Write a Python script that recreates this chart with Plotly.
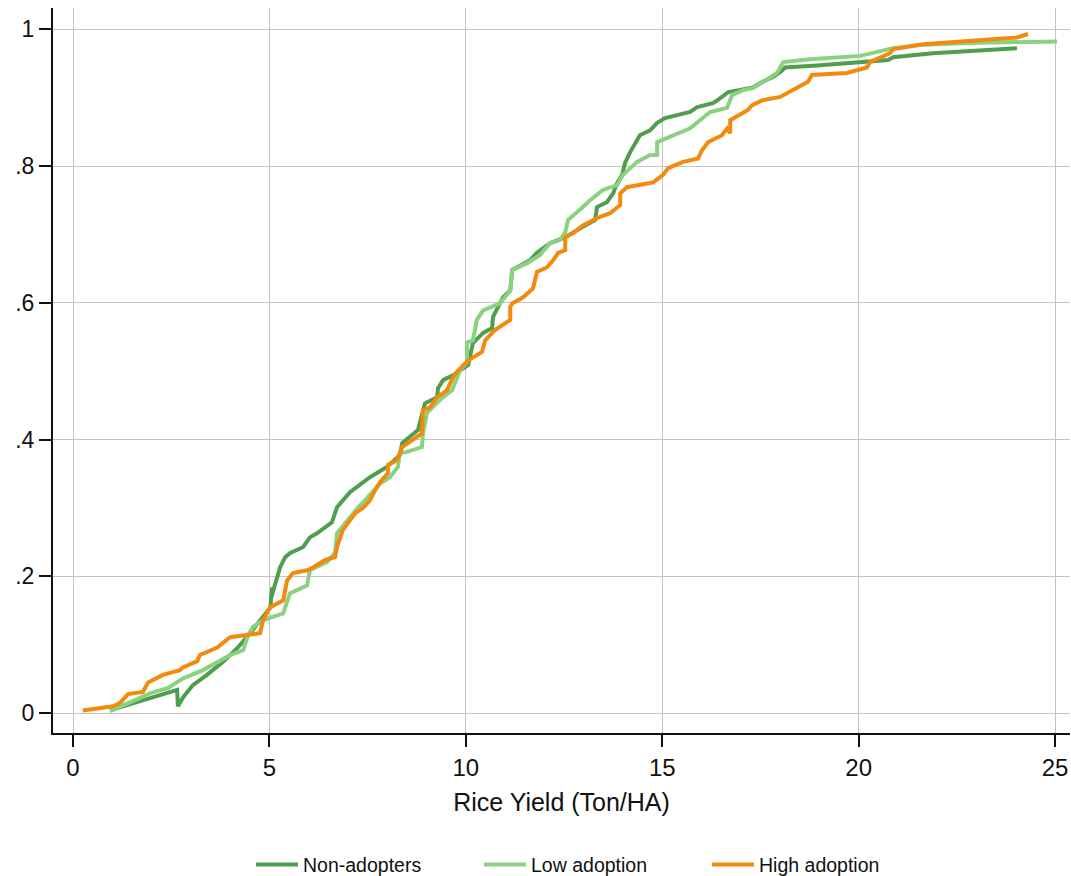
import plotly.graph_objects as go

# Non-adopters
non_x = [0.94, 2.65, 2.67, 2.80, 3.05, 3.41, 3.82, 4.18, 4.51, 4.84, 5.02, 5.07, 5.05, 5.27, 5.40, 5.52, 5.86,
         6.03, 6.21, 6.59, 6.72, 7.05, 7.36, 7.56, 7.99, 8.32, 8.38, 8.78, 8.96, 9.27, 9.29, 9.42, 9.67,
         10.06, 10.18, 10.44, 10.67, 10.69, 10.82, 10.95, 11.13, 11.18, 11.63, 11.81, 12.14, 12.53, 12.98,
         13.29, 13.34, 13.59, 13.75, 13.85, 13.98, 14.05, 14.18, 14.43, 14.69, 14.87, 15.07, 15.71, 15.89,
         16.29, 16.40, 16.68, 16.98, 17.31, 17.62, 17.82, 18.00, 18.13, 18.94, 20.04, 20.75, 20.88, 21.89, 24.03]
non_y = [0.004, 0.034, 0.010, 0.023, 0.041, 0.056, 0.075, 0.095, 0.117, 0.140, 0.154, 0.184, 0.170, 0.213, 0.228,
         0.234, 0.243, 0.257, 0.263, 0.279, 0.301, 0.323, 0.336, 0.345, 0.360, 0.377, 0.395, 0.414, 0.453, 0.462,
         0.475, 0.487, 0.494, 0.509, 0.541, 0.556, 0.563, 0.579, 0.594, 0.608, 0.618, 0.648, 0.662, 0.673, 0.687,
         0.696, 0.711, 0.721, 0.740, 0.747, 0.760, 0.775, 0.787, 0.804, 0.820, 0.845, 0.852, 0.863, 0.870, 0.879,
         0.886, 0.892, 0.896, 0.908, 0.911, 0.915, 0.925, 0.930, 0.937, 0.944, 0.947, 0.952, 0.955, 0.959, 0.965,
         0.972]

# Low adoption
low_x = [0.94, 1.45, 1.96, 2.42, 2.80, 3.31, 3.67, 4.00, 4.33, 4.46, 4.58, 4.84, 5.35, 5.45, 5.52, 5.96, 6.03,
         6.47, 6.67, 6.72, 6.98, 7.26, 7.43, 7.61, 7.82, 8.07, 8.27, 8.32, 8.50, 8.88, 8.91, 9.01, 9.16, 9.42,
         9.65, 9.85, 10.03, 10.03, 10.18, 10.28, 10.44, 10.87, 11.13, 11.18, 11.56, 11.89, 12.14, 12.40, 12.53,
         12.60, 12.98, 13.16, 13.49, 13.85, 14.00, 14.36, 14.69, 14.87, 14.87, 15.38, 15.71, 15.96, 16.22, 16.65,
         16.78, 17.06, 17.31, 17.62, 17.92, 18.08, 18.76, 20.04, 20.37, 20.85, 21.56, 22.76, 25.05]
low_y = [0.003, 0.016, 0.029, 0.037, 0.051, 0.063, 0.075, 0.085, 0.092, 0.114, 0.126, 0.136, 0.146, 0.161, 0.175,
         0.187, 0.209, 0.221, 0.235, 0.263, 0.282, 0.301, 0.311, 0.322, 0.336, 0.345, 0.360, 0.380, 0.382, 0.389,
         0.409, 0.439, 0.447, 0.462, 0.472, 0.501, 0.513, 0.542, 0.545, 0.575, 0.589, 0.599, 0.618, 0.648, 0.658,
         0.670, 0.687, 0.692, 0.703, 0.721, 0.740, 0.750, 0.765, 0.772, 0.787, 0.806, 0.816, 0.816, 0.835, 0.848,
         0.855, 0.867, 0.879, 0.885, 0.904, 0.911, 0.914, 0.925, 0.936, 0.952, 0.956, 0.961, 0.966, 0.972, 0.977,
         0.980, 0.982]

# High adoption
high_x = [0.25, 1.02, 1.20, 1.40, 1.78, 1.91, 2.29, 2.72, 2.80, 3.16, 3.23, 3.67, 4.00, 4.76, 4.84, 5.02, 5.35,
          5.45, 5.60, 5.96, 6.11, 6.42, 6.67, 6.72, 6.87, 7.18, 7.38, 7.56, 7.69, 7.82, 8.02, 8.02, 8.25, 8.38,
          8.63, 8.88, 8.91, 9.09, 9.27, 9.52, 9.67, 9.80, 10.06, 10.18, 10.41, 10.49, 10.74, 11.13, 11.13, 11.18,
          11.46, 11.71, 11.81, 12.07, 12.22, 12.35, 12.53, 12.53, 12.73, 12.98, 13.34, 13.67, 13.93, 13.93, 14.10,
          14.77, 15.02, 15.15, 15.53, 15.91, 16.01, 16.17, 16.52, 16.65, 16.73, 16.73, 16.93, 17.18, 17.29, 17.54,
          18.00, 18.33, 18.43, 18.71, 18.81, 19.70, 20.21, 20.29, 20.80, 20.88, 21.64, 22.76, 24.03, 24.31]
high_y = [0.004, 0.010, 0.015, 0.028, 0.031, 0.045, 0.056, 0.063, 0.067, 0.076, 0.085, 0.096, 0.111, 0.117, 0.136,
          0.155, 0.165, 0.194, 0.205, 0.209, 0.213, 0.224, 0.228, 0.243, 0.268, 0.292, 0.300, 0.311, 0.326, 0.338,
          0.351, 0.363, 0.370, 0.389, 0.399, 0.409, 0.443, 0.447, 0.462, 0.472, 0.491, 0.501, 0.516, 0.520, 0.528,
          0.545, 0.560, 0.575, 0.594, 0.599, 0.608, 0.621, 0.645, 0.652, 0.662, 0.673, 0.677, 0.696, 0.702, 0.713,
          0.724, 0.731, 0.743, 0.760, 0.769, 0.776, 0.787, 0.797, 0.806, 0.811, 0.823, 0.835, 0.845, 0.855, 0.848,
          0.867, 0.874, 0.882, 0.889, 0.896, 0.901, 0.911, 0.915, 0.923, 0.933, 0.936, 0.944, 0.952, 0.965, 0.971,
          0.978, 0.982, 0.988, 0.993]

x_ticks = [0, 5, 10, 15, 20, 25]
y_ticks = [0, 0.2, 0.4, 0.6, 0.8, 1]
y_tick_labels = ["0", ".2", ".4", ".6", ".8", "1"]

series = [
    ("Non-adopters", non_x, non_y, "#4f9e50"),
    ("Low adoption", low_x, low_y, "#8ad27f"),
    ("High adoption", high_x, high_y, "#f28a0e"),
]

fig = go.Figure()
for name, xs, ys, col in series:
    fig.add_trace(go.Scatter(x=xs, y=ys, mode="lines", name=name,
                             line=dict(color=col, width=4)))

font_family = "Liberation Sans, Arial, sans-serif"
fig.update_layout(
    width=1071, height=876,
    margin=dict(l=53, r=1, t=8, b=143, autoexpand=False),
    paper_bgcolor="white", plot_bgcolor="white",
    font=dict(family=font_family, color="#111111"),
    showlegend=True,
    legend=dict(orientation="h", x=0.1947, xanchor="left", y=-0.155, yanchor="top",
                font=dict(size=19.5, family=font_family, color="#111111"),
                itemwidth=42, entrywidth=171, entrywidthmode="pixels"),
    xaxis=dict(range=[-0.51, 25.38], tickvals=x_ticks, ticks="outside", ticklen=12,
               tickwidth=1.5, tickcolor="#111111", showline=True, linecolor="#111111",
               linewidth=2, showgrid=True, gridcolor="#c4c4c4", gridwidth=1, zeroline=False,
               tickfont=dict(size=24), ticklabelstandoff=0, automargin=False,
               title=dict(text="Rice Yield (Ton/HA)", font=dict(size=25), standoff=14)),
    yaxis=dict(range=[-0.029, 1.031], tickvals=y_ticks, ticktext=y_tick_labels,
               ticks="outside", ticklen=12, tickwidth=1.5, tickcolor="#111111",
               showline=True, linecolor="#111111", linewidth=2, showgrid=True, automargin=False,
               gridcolor="#c4c4c4", gridwidth=1, zeroline=False, tickfont=dict(size=23)),
)

fig.write_html("out.html")
